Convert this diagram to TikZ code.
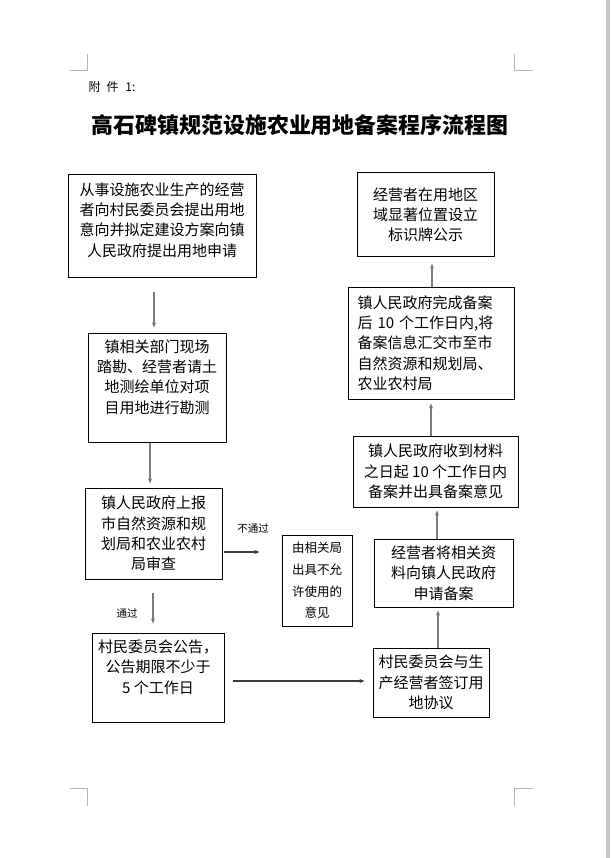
\documentclass[tikz,border=0pt]{standalone}
\usepackage{fontspec}
\newfontfamily\cjk{Noto Sans CJK SC}
\usetikzlibrary{arrows.meta, positioning}
\definecolor{carrow}{HTML}{7A7A7A}
\definecolor{cdark}{HTML}{3C3C3C}
\definecolor{cmark}{HTML}{B4B4B4}
\definecolor{cedge}{HTML}{C6C6C6}
\tikzset{
  every picture/.style={x=1pt, y=-1pt, line width=1pt},
  box/.style={draw=black, line width=1pt, align=center, inner sep=3pt, font=\cjk\fontsize{15}{20.3}\selectfont},
  arrow/.style={-{Stealth[length=5pt, width=4pt]}, draw=carrow, line width=1.2pt},
  harrow/.style={arrow, draw=cdark},
  note/.style={font=\cjk\fontsize{10.5}{12}\selectfont, inner sep=0pt},
  cornermark/.style={draw=cmark, line width=1pt},
}

\begin{document}
\begin{tikzpicture}
  \useasboundingbox (0,0) rectangle (610,858);
  % page frame
  \fill[cedge] (606,0) rectangle (610,858);
  \draw[cornermark] (87,54) -- (87,71) -- (70,71);
  \draw[cornermark] (514,54) -- (514,71) -- (533,71);
  \draw[cornermark] (70,788) -- (87,788) -- (87,806);
  \draw[cornermark] (533,788) -- (514,788) -- (514,806);
  % heading
  \node[anchor=west, inner sep=0pt, font=\cjk\fontsize{12}{14}\selectfont] (annex) at (88,87) {附\hspace{6pt}件\hspace{7pt}1:};
  \node[inner sep=0pt, font=\cjk\bfseries\fontsize{21.9}{24}\selectfont] (title) at (300,125) {高石碑镇规范设施农业用地备案程序流程图};
  % left column
  \node[box, minimum width=188pt, minimum height=102pt, text depth=13pt] (apply) at (162,226)
    {从事设施农业生产的经营\\者向村民委员会提出用地\\意向并拟定建设方案向镇\\人民政府提出用地申请};
  \node[box, minimum width=138pt, minimum height=109pt, text depth=22pt] (survey) at (157,387.5)
    {镇相关部门现场\\踏勘、经营者请土\\地测绘单位对项\\目用地进行勘测};
  \node[box, minimum width=137pt, minimum height=91pt] (report) at (153.5,533.5)
    {镇人民政府上报\\市自然资源和规\\划局和农业农村\\局审查};
  \node[box, minimum width=132pt, minimum height=89pt, text depth=22pt] (notice) at (158,677.5)
    {村民委员会公告，\\公告期限不少于\\5 个工作日};
  \node[box, minimum width=70pt, minimum height=91pt, font=\cjk\fontsize{12.5}{21.7}\selectfont] (reject) at (317,580.5)
    {由相关局\\出具不允\\许使用的\\意见};
  % right column
  \node[box, minimum width=116pt, minimum height=69pt] (agree) at (431,682.5)
    {村民委员会与生\\产经营者签订用\\地协议};
  \node[box, minimum width=139pt, minimum height=68pt] (submit) at (443.5,573)
    {经营者将相关资\\料向镇人民政府\\申请备案};
  \node[box, minimum width=165pt, minimum height=71pt] (accept) at (435.5,471.5)
    {镇人民政府收到材料\\之日起 10 个工作日内\\备案并出具备案意见};
  \node[box, align=left, minimum width=166pt, minimum height=112pt, text width=147pt] (done) at (431,343)
    {镇人民政府完成备案\\后 10 个工作日内,将\\备案信息汇交市至市\\自然资源和规划局、\\农业农村局};
  \node[box, minimum width=137pt, minimum height=84pt] (sign) at (425.5,215)
    {经营者在用地区\\域显著位置设立\\标识牌公示};
  % arrows
  \draw[arrow] ([xshift=-8pt, yshift=-14pt]apply.south) -- ([xshift=-3pt, yshift=5pt]survey.north);
  \draw[arrow] ([xshift=-7pt]survey.south) -- ([xshift=-3.5pt, yshift=4pt]report.north);
  \draw[arrow] ([xshift=-0.5pt, yshift=-13pt]report.south) -- ([xshift=-5pt, yshift=9pt]notice.north);
  \draw[harrow] ([xshift=1pt, yshift=-18.5pt]report.east) -- ([xshift=-22pt, yshift=28.5pt]reject.west);
  \draw[harrow] ([xshift=8pt, yshift=-3.5pt]notice.east) -- ([xshift=-8pt, yshift=1.5pt]agree.west);
  \draw[arrow] ([xshift=7pt]agree.north) -- ([xshift=-5.5pt, yshift=-3pt]submit.south);
  \draw[arrow] ([xshift=-6.5pt]submit.north) -- ([xshift=1.5pt, yshift=-3pt]accept.south);
  \draw[arrow] ([xshift=-4.5pt]accept.north) -- ([yshift=-4pt]done.south);
  \draw[arrow] ([xshift=1pt]done.north) -- ([xshift=6.5pt, yshift=-6pt]sign.south);
  % branch labels
  \node[note] (fail) at (253,529) {不通过};
  \node[note] (pass) at (127,613) {通过};
\end{tikzpicture}
\end{document}
